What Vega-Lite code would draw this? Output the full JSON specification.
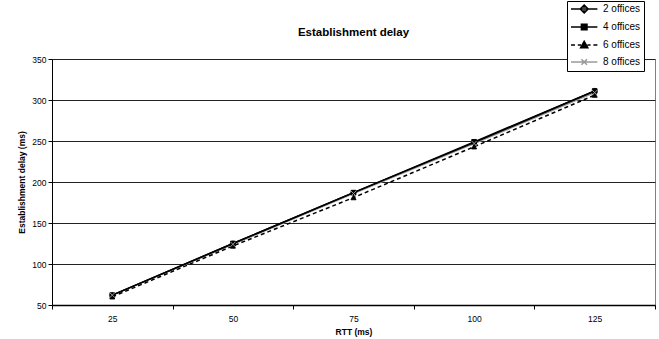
{
  "$schema": "https://vega.github.io/schema/vega-lite/v6.json",
  "width": 603,
  "height": 246,
  "autosize": {"type": "none"},
  "padding": {"left": 52, "top": 59, "right": 4, "bottom": 34},
  "background": "white",
  "title": {"text": "Establishment delay", "fontSize": 11.5, "font": "Liberation Sans", "fontWeight": "bold", "color": "black", "offset": -38, "anchor": "middle", "frame": "group"},
  "config": {
    "view": {"stroke": "#808080", "strokeWidth": 1},
    "font": "Liberation Sans"
  },
  "data": {
    "values": [
      {"series": "2 offices", "rtt": 25, "delay": 62},
      {"series": "2 offices", "rtt": 50, "delay": 125},
      {"series": "2 offices", "rtt": 75, "delay": 187},
      {"series": "2 offices", "rtt": 100, "delay": 248},
      {"series": "2 offices", "rtt": 125, "delay": 311},
      {"series": "4 offices", "rtt": 25, "delay": 62},
      {"series": "4 offices", "rtt": 50, "delay": 125},
      {"series": "4 offices", "rtt": 75, "delay": 187},
      {"series": "4 offices", "rtt": 100, "delay": 249},
      {"series": "4 offices", "rtt": 125, "delay": 311},
      {"series": "6 offices", "rtt": 25, "delay": 60},
      {"series": "6 offices", "rtt": 50, "delay": 122},
      {"series": "6 offices", "rtt": 75, "delay": 181},
      {"series": "6 offices", "rtt": 100, "delay": 243},
      {"series": "6 offices", "rtt": 125, "delay": 306},
      {"series": "8 offices", "rtt": 25, "delay": 62},
      {"series": "8 offices", "rtt": 50, "delay": 124},
      {"series": "8 offices", "rtt": 75, "delay": 186},
      {"series": "8 offices", "rtt": 100, "delay": 247},
      {"series": "8 offices", "rtt": 125, "delay": 309}
    ]
  },
  "encoding": {
    "x": {
      "field": "rtt", "type": "ordinal",
      "scale": {"type": "band", "paddingInner": 0, "paddingOuter": 0},
      "axis": {
        "title": "RTT (ms)", "titleFont": "Liberation Sans", "titleFontSize": 8.5, "titleFontWeight": "bold", "titleColor": "black", "titlePadding": 5,
        "labelFont": "Liberation Sans", "labelFontSize": 8.5, "labelColor": "black", "labelAngle": 0, "labelPadding": 5,
        "tickBand": "extent", "tickSize": 4, "tickColor": "black", "domainColor": "black", "domainWidth": 1.5, "grid": false
      }
    },
    "y": {
      "field": "delay", "type": "quantitative",
      "scale": {"domain": [50, 350], "nice": false, "zero": false},
      "axis": {
        "values": [50, 100, 150, 200, 250, 300, 350],
        "title": "Establishment delay (ms)", "titleFont": "Liberation Sans", "titleFontSize": 8.5, "titleFontWeight": "bold", "titleColor": "black", "titlePadding": 5,
        "labelFont": "Liberation Sans", "labelFontSize": 8.5, "labelColor": "black", "labelPadding": 2,
        "tickSize": 4, "tickColor": "black", "domainColor": "black", "grid": true, "gridColor": "#222222", "gridWidth": 1
      }
    }
  },
  "layer": [
    {
      "transform": [{"filter": "datum.series === '8 offices'"}],
      "mark": {"type": "line", "strokeWidth": 1.5, "stroke": "#9a9a9a"}
    },
    {
      "transform": [{"filter": "datum.series === '6 offices'"}],
      "mark": {"type": "line", "strokeWidth": 1.5, "stroke": "black", "strokeDash": [4, 3]}
    },
    {
      "transform": [{"filter": "datum.series === '4 offices'"}],
      "mark": {"type": "line", "strokeWidth": 1.5, "stroke": "black"}
    },
    {
      "transform": [{"filter": "datum.series === '2 offices'"}],
      "mark": {"type": "line", "strokeWidth": 1.5, "stroke": "black"}
    },
    {
      "transform": [{"filter": "datum.series === '2 offices'"}],
      "mark": {"type": "point", "shape": "diamond", "filled": true, "size": 28, "opacity": 1, "fill": "black", "stroke": "black", "strokeWidth": 1}
    },
    {
      "transform": [{"filter": "datum.series === '4 offices'"}],
      "mark": {"type": "point", "shape": "square", "filled": true, "size": 22, "opacity": 1, "fill": "black", "stroke": "black", "strokeWidth": 1}
    },
    {
      "transform": [{"filter": "datum.series === '6 offices'"}],
      "mark": {"type": "point", "shape": "triangle-up", "filled": true, "size": 25, "opacity": 1, "fill": "black", "stroke": "black", "strokeWidth": 1}
    },
    {
      "transform": [{"filter": "datum.series === '8 offices'"}],
      "mark": {"type": "point", "shape": "M-1,-1L1,1M1,-1L-1,1", "filled": false, "size": 25, "opacity": 1, "stroke": "#9a9a9a", "strokeWidth": 1}
    },
    {
      "mark": {"type": "point", "filled": false, "size": 0, "strokeWidth": 1.5},
      "encoding": {
        "color": {
          "field": "series", "type": "nominal",
          "scale": {"domain": ["2 offices", "4 offices", "6 offices", "8 offices"], "range": ["black", "black", "black", "#9a9a9a"]},
          "legend": {
            "title": null, "orient": "none", "legendX": 515, "legendY": -58,
            "strokeColor": "black", "fillColor": "white", "padding": 3,
            "labelFont": "Liberation Sans", "labelFontSize": 10, "labelColor": "black", "labelOffset": 23,
            "rowPadding": 5, "symbolSize": 64, "symbolStrokeWidth": 1.5, "symbolOpacity": 1
          }
        },
        "shape": {
          "field": "series", "type": "nominal",
          "scale": {
            "domain": ["2 offices", "4 offices", "6 offices", "8 offices"],
            "range": [
              "M-1,0L5.6,0M2.3,-1L3.3,0L2.3,1L1.3,0ZM1.8,-0.5L2.8,-0.5M1.8,0.5L2.8,0.5",
              "M-1,0L5.6,0M1.6,-0.7L3,-0.7L3,0.7L1.6,0.7ZM1.6,-0.35L3,-0.35M1.6,0.35L3,0.35",
              "M-1,0L0,0M0.7,0L1.5,0M3.1,0L3.9,0M4.6,0L5.6,0M2.3,-0.9L3.2,0.7L1.4,0.7ZM2,-0.3L2.6,-0.3M1.8,0L2.8,0M1.7,0.35L2.9,0.35",
              "M-1,0L5.6,0M1.6,-0.7L3,0.7M3,-0.7L1.6,0.7"
            ]
          }
        }
      }
    }
  ]
}
